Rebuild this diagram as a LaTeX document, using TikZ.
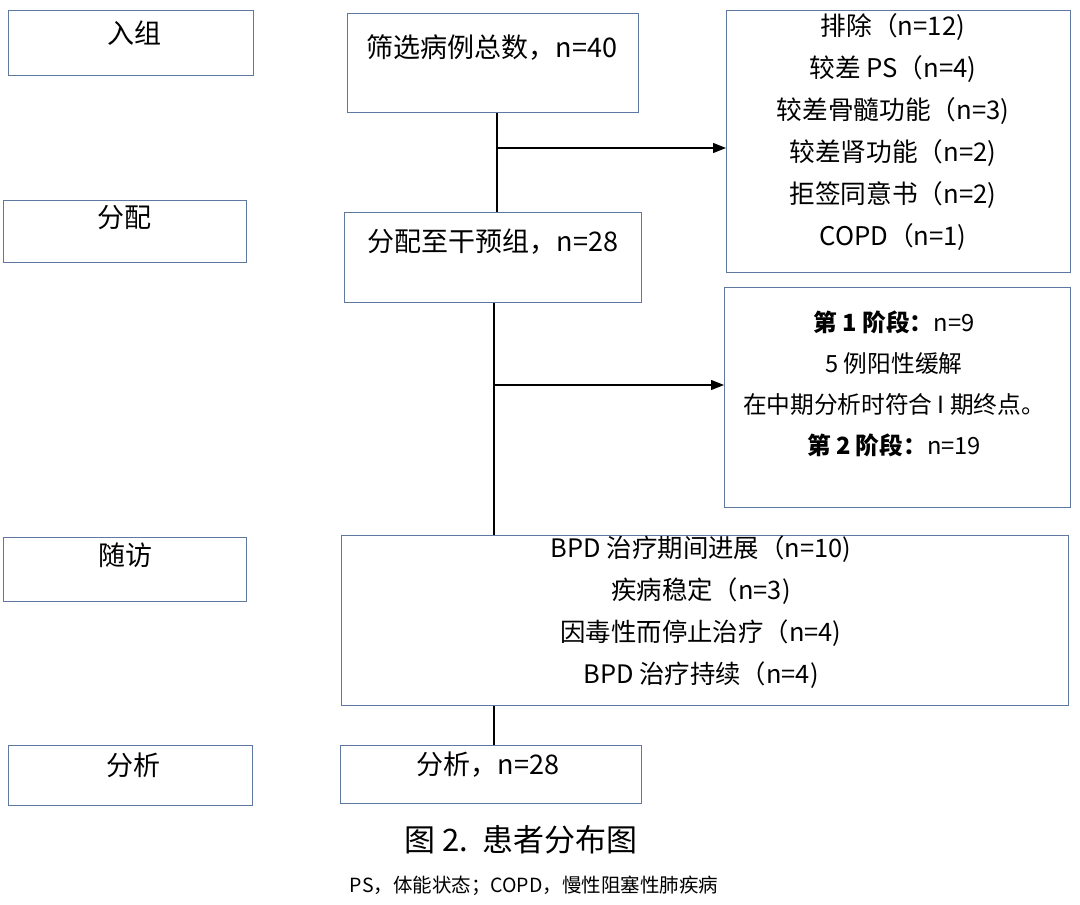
\documentclass[tikz,border=0pt]{standalone}
\usepackage{fontspec}
\setmainfont{Noto Sans CJK SC}
\usetikzlibrary{arrows.meta,calc}
\definecolor{boxcol}{RGB}{95,120,160}
\tikzset{
  box/.style={draw=boxcol, line width=1.4pt, rectangle, anchor=north west, inner sep=0pt},
  conn/.style={draw=black, line width=1.3pt},
  arr/.style={conn, -{Triangle[length=13pt,width=10pt]}},
  lbl/.style={font=\fontsize{27}{30}\selectfont, inner sep=0pt},
  mid/.style={font=\fontsize{27}{30}\selectfont, inner sep=0pt},
  multi/.style={align=center, inner sep=0pt, font=\fontsize{25.7}{42}\selectfont},
}
\begin{document}
\begin{tikzpicture}[x=1pt,y=-1pt]
\useasboundingbox (0,0) rectangle (1080,905);
% left stage boxes
\node[box, minimum width=245pt, minimum height=65pt] (s1) at (8,10) {};
\node[lbl] (s1t) at (134,33) {入组};
\node[box, minimum width=243pt, minimum height=62pt] (s2) at (3,200) {};
\node[lbl] (s2t) at (124,218) {分配};
\node[box, minimum width=243pt, minimum height=64pt] (s3) at (3,537) {};
\node[lbl] (s3t) at (125,555) {随访};
\node[box, minimum width=244pt, minimum height=60pt] (s4) at (8,745) {};
\node[lbl] (s4t) at (133,765) {分析};
% main boxes
\node[box, minimum width=291pt, minimum height=99pt] (screen) at (347,13) {};
\node[mid] (screent) at (492,48) {筛选病例总数，n=40};
\node[box, minimum width=297pt, minimum height=90pt] (alloc) at (344,212) {};
\node[mid] (alloct) at (493,242) {分配至干预组，n=28};
\node[box, minimum width=727pt, minimum height=170pt] (fu) at (341,535) {};
\node[multi, font=\fontsize{25.4}{42}\selectfont] (fut) at (701,612) {BPD 治疗期间进展（n=10)\\疾病稳定（n=3)\\因毒性而停止治疗（n=4)\\BPD 治疗持续（n=4)};
\node[box, minimum width=301pt, minimum height=58pt] (ana) at (340,745) {};
\node[mid] (anat) at (488,765) {分析，n=28};
% right boxes
\node[box, minimum width=344pt, minimum height=262pt] (excl) at (726,10) {};
\node[multi] (exclt) at (893,132.5) {排除（n=12)\\较差 PS（n=4)\\较差骨髓功能（n=3)\\较差肾功能（n=2)\\拒签同意书（n=2)\\COPD（n=1)};
\node[box, minimum width=346pt, minimum height=220pt] (stage) at (724,287) {};
\node[multi, font=\fontsize{23.7}{41}\selectfont] (staget) at (894,383.5) {\textbf{第 1 阶段：}n=9\\5 例阳性缓解\\在中期分析时符合 I 期终点。\\\textbf{第 2 阶段：}n=19};
% connectors
\coordinate (j1) at (497,148);
\coordinate (j2) at (494,385);
\draw[conn] (screen.south -| j1) -- (alloc.north -| j1);
\draw[arr] (j1) -- (j1 -| excl.west);
\draw[conn] (alloc.south -| j2) -- (fu.north -| j2);
\draw[arr] (j2) -- (j2 -| stage.west);
\draw[conn] (fu.south -| j2) -- (ana.north -| j2);
% caption
\node[inner sep=0pt, font=\fontsize{31}{34}\selectfont] (cap) at (521,840) {图 2.\, 患者分布图};
\node[inner sep=0pt, font=\fontsize{19.5}{22}\selectfont] (note) at (534,886) {PS，体能状态；COPD，慢性阻塞性肺疾病};
\end{tikzpicture}
\end{document}
